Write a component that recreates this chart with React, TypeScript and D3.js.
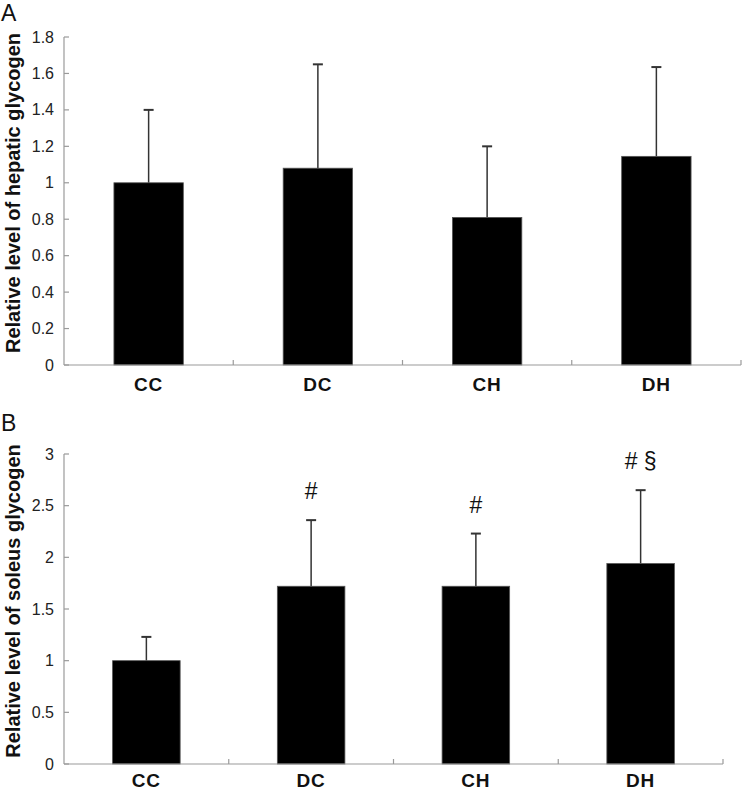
import React from "react";
import * as d3 from "d3";

const categories = ["CC", "DC", "CH", "DH"];
const hepaticMean = [1.0, 1.08, 0.81, 1.145];
const hepaticSD = [0.4, 0.57, 0.39, 0.49];
const hepaticTicks = [0, 0.2, 0.4, 0.6, 0.8, 1, 1.2, 1.4, 1.6, 1.8];
const soleusMean = [1.0, 1.72, 1.72, 1.94];
const soleusSD = [0.23, 0.64, 0.51, 0.71];
const soleusTicks = [0, 0.5, 1, 1.5, 2, 2.5, 3];
const soleusMarks = ["", "#", "#", "# \u00A7"];

const FONT = "'Liberation Sans', Arial, sans-serif";

type PanelProps = {
  letter: string;
  letterY: number;
  title: string;
  means: number[];
  sds: number[];
  ticks: number[];
  marks?: string[];
  x0: number;
  x1: number;
  yTop: number;
  yBottom: number;
  yMax: number;
  catBaseline: number;
};

function Panel(p: PanelProps) {
  const x = d3.scaleBand<string>().domain(categories).range([p.x0, p.x1]).padding(0);
  const y = d3.scaleLinear().domain([0, p.yMax]).range([p.yBottom, p.yTop]);
  const bw = x.bandwidth();
  const barW = bw * 0.41;
  const axisColor = "#9a9a9a";
  const fmt = d3.format("~g");
  return (
    <g>
      <text x={1} y={p.letterY} fontFamily={FONT} fontSize={23} fill="#111">
        {p.letter}
      </text>
      <text
        transform={`translate(20,${(p.yTop + p.yBottom) / 2 - 8}) rotate(-90)`}
        textAnchor="middle"
        fontFamily={FONT}
        fontSize={20}
        fontWeight="bold"
        fill="#111"
      >
        {p.title}
      </text>
      {categories.map((c, i) => {
        const cx = (x(c) as number) + bw / 2;
        const top = y(p.means[i]);
        const errTop = y(p.means[i] + p.sds[i]);
        return (
          <g key={c}>
            <line x1={cx} x2={cx} y1={top} y2={errTop} stroke="#333" strokeWidth={1.5} />
            <line x1={cx - 5} x2={cx + 5} y1={errTop} y2={errTop} stroke="#333" strokeWidth={2} />
            <rect x={cx - barW / 2} y={top} width={barW} height={p.yBottom - top} fill="#000" stroke="#555" strokeWidth={0.8} />
            {p.marks && p.marks[i] ? (
              <text x={cx} y={errTop - 21} textAnchor="middle" fontFamily={FONT} fontSize={23} fill="#111">
                {p.marks[i]}
              </text>
            ) : null}
            <text
              x={cx}
              y={p.catBaseline}
              textAnchor="middle"
              fontFamily={FONT}
              fontSize={19}
              fontWeight="bold"
              letterSpacing={1}
              fill="#111"
            >
              {c}
            </text>
          </g>
        );
      })}
      <line x1={p.x0} x2={p.x0} y1={p.yTop} y2={p.yBottom} stroke={axisColor} strokeWidth={1.2} />
      {p.ticks.map((t) => (
        <g key={t}>
          <line x1={p.x0} x2={p.x0 + 5} y1={y(t)} y2={y(t)} stroke={axisColor} strokeWidth={1.2} />
          <text x={p.x0 - 10} y={y(t) + 5.5} textAnchor="end" fontFamily={FONT} fontSize={16} fill="#222">
            {fmt(t)}
          </text>
        </g>
      ))}
      <line x1={p.x0} x2={p.x1} y1={p.yBottom} y2={p.yBottom} stroke={axisColor} strokeWidth={1.2} />
      {categories.map((c) => {
        const xr = (x(c) as number) + bw;
        return <line key={"t" + c} x1={xr} x2={xr} y1={p.yBottom} y2={p.yBottom - 5} stroke={axisColor} strokeWidth={1.2} />;
      })}
    </g>
  );
}

export default function App() {
  return (
    <svg
      width={742}
      height={790}
      style={{ position: "absolute", left: 0, top: 0, background: "#fff" }}
    >
      <rect width={742} height={790} fill="#fff" />
      <Panel
        letter="A"
        letterY={21}
        title="Relative level of hepatic glycogen"
        means={hepaticMean}
        sds={hepaticSD}
        ticks={hepaticTicks}
        x0={64}
        x1={741}
        yTop={37}
        yBottom={365}
        yMax={1.8}
        catBaseline={391}
      />
      <Panel
        letter="B"
        letterY={431}
        title="Relative level of soleus glycogen"
        means={soleusMean}
        sds={soleusSD}
        ticks={soleusTicks}
        marks={soleusMarks}
        x0={64}
        x1={723}
        yTop={454}
        yBottom={764}
        yMax={3}
        catBaseline={787}
      />
    </svg>
  );
}
